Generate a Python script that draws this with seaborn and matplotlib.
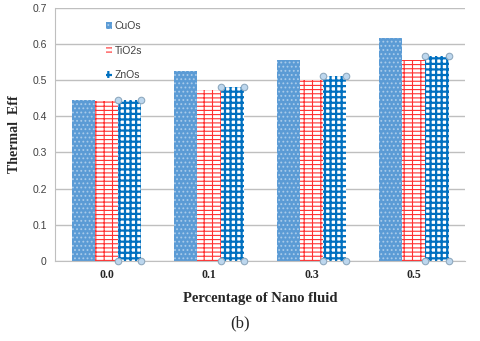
import seaborn as sns
import pandas as pd
import matplotlib.pyplot as plt
from matplotlib.ticker import FuncFormatter

percent = ['0.0', '0.1', '0.3', '0.5']
cuo = [0.445, 0.526, 0.556, 0.617]
tio2 = [0.443, 0.472, 0.500, 0.555]
zno = [0.445, 0.481, 0.512, 0.567]
series = ['CuOs', 'TiO2s', 'ZnOs']

df = pd.DataFrame({
    'pct': percent * 3,
    'eff': cuo + tio2 + zno,
    'kind': [s for s in series for _ in percent],
})

sns.set_style('white')

fig = plt.figure(figsize=(4.8, 3.41), dpi=100)
ax = fig.add_axes([0.115, 0.235, 0.854, 0.742])

sns.barplot(data=df, x='pct', y='eff', hue='kind', order=percent, hue_order=series,
            width=0.68, gap=0, ax=ax, saturation=1, legend=True)

faces = ['#5B9BD5', 'white', 'white']
hatch_cols = ['#A9CBEA', '#FF3030', '#0070C0']
hatches = ['....', '----||', '+++']
hatch_lw = [0.8, 0.8, 1.6]


def style(p, i):
    p.set_facecolor(faces[i])
    p.set_edgecolor(hatch_cols[i])
    p.set_hatch(hatches[i])
    p.set_linewidth(0)
    try:
        p.set_hatch_linewidth(hatch_lw[i])
    except AttributeError:
        pass


for i, cont in enumerate(ax.containers):
    for bar in cont:
        style(bar, i)

# little selection handles on the ZnOs bars
for bar in ax.containers[2]:
    x0, w, h = bar.get_x(), bar.get_width(), bar.get_height()
    ax.scatter([x0, x0 + w, x0, x0 + w], [h, h, 0, 0], s=22, color='#BDD7EE',
               edgecolor='#8FA9BF', linewidth=0.8, zorder=5, clip_on=False)

ax.set_ylim(0, 0.7)
ax.set_xlim(-0.5, 3.5)
ax.set_yticks([0, 0.1, 0.2, 0.3, 0.4, 0.5, 0.6, 0.7])
ax.yaxis.set_major_formatter(FuncFormatter(lambda v, p: '0' if v == 0 else '%.1f' % v))
ax.grid(axis='y', color='#BFBFBF', linewidth=1)
ax.set_axisbelow(True)
for s in ['top', 'right']:
    ax.spines[s].set_visible(False)
ax.spines['left'].set_color('#BFBFBF')
ax.spines['bottom'].set_color('#BFBFBF')
ax.tick_params(axis='y', length=4, color='#BFBFBF', labelsize=7.5, labelcolor='#404040', pad=2)
ax.tick_params(axis='x', length=0, pad=6)
for t in ax.get_yticklabels():
    t.set_family('Liberation Sans')
for t in ax.get_xticklabels():
    t.set_family('Liberation Serif')
    t.set_fontweight('bold')
    t.set_fontsize(8.5)

ax.set_xlabel('Percentage of Nano fluid', family='Liberation Serif', fontweight='bold',
              fontsize=10.5, labelpad=8)
ax.set_ylabel('Thermal  Eff', family='Liberation Serif', fontweight='bold', fontsize=10, labelpad=8)

leg = ax.legend(loc='upper left', bbox_to_anchor=(0.1, 0.985), frameon=False, labelspacing=1.4,
                handlelength=0.6, handleheight=0.6, handletextpad=0.3,
                prop={'family': 'Liberation Sans', 'size': 7.5})
for i, hnd in enumerate(leg.legend_handles):
    style(hnd, i)
for txt in leg.get_texts():
    txt.set_color('#404040')

fig.text(0.5, 0.04, '(b)', ha='center', family='Liberation Serif', fontsize=12)

fig.savefig('out.png', dpi=100)
